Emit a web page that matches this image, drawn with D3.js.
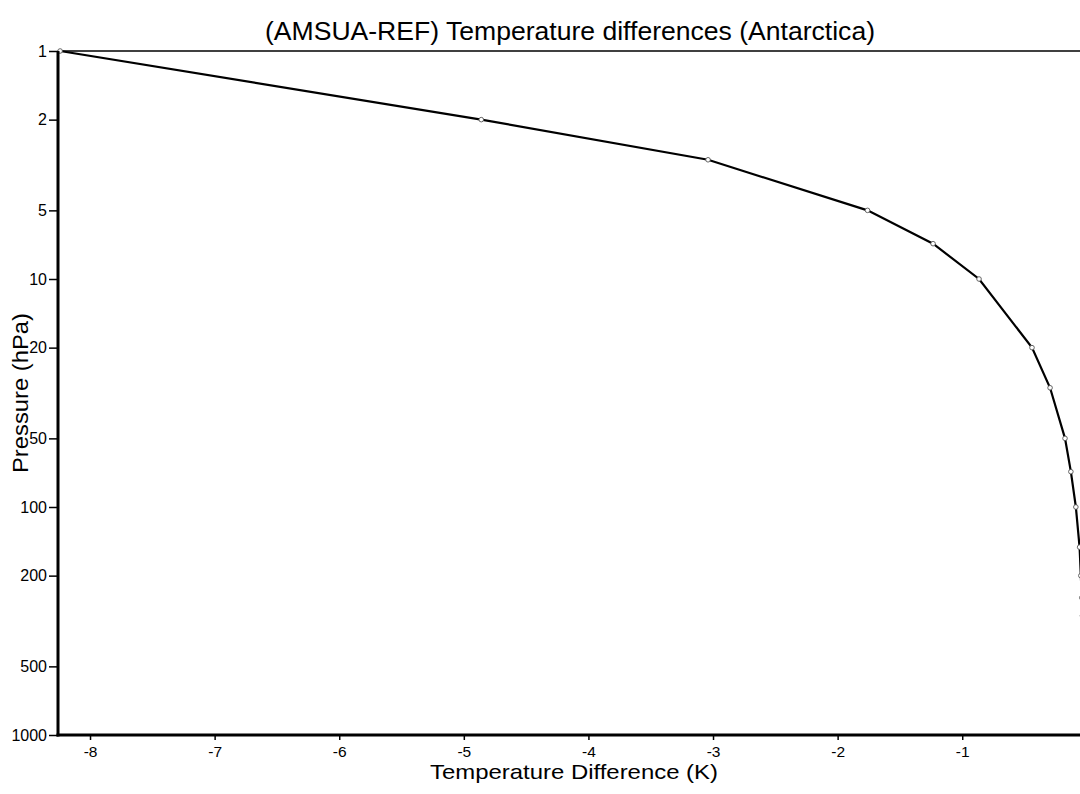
<!DOCTYPE html>
<html>
<head>
<meta charset="utf-8">
<script src="https://cdn.jsdelivr.net/npm/d3@7"></script>
<style>
  html, body { margin: 0; padding: 0; background: #fff; overflow: hidden; }
  text { font-family: "Liberation Sans", Arial, sans-serif; fill: #000; }
</style>
</head>
<body>
<div id="chart-container" style="width:1080px;height:794px;"></div>
<script>
// pressure levels (hPa) and temperature differences (K)
const pressure = [1, 2, 3, 5, 7, 10, 20, 30, 50, 70, 100, 150, 200, 250, 300, 400, 500, 700, 850, 1000];
const tempDiff = [-8.24, -4.86, -3.04, -1.76, -1.234, -0.865, -0.44, -0.295, -0.175, -0.128, -0.088, -0.058, -0.048, -0.04, -0.035, -0.03, -0.026, -0.02, -0.016, -0.012];
const yTicks = [1, 2, 5, 10, 20, 50, 100, 200, 500, 1000];
const xTicks = [-8, -7, -6, -5, -4, -3, -2, -1];

document.addEventListener('DOMContentLoaded', () => {
    const width = 1080, height = 794;
    const margin = { top: 51, left: 58, bottom: 59 };

    const svg = d3.select('#chart-container')
        .append('svg')
        .attr('width', width)
        .attr('height', height);

    const x = d3.scaleLinear()
        .domain([-8.257, 0])
        .range([margin.left, margin.left + 8.257 * 124.6]);

    const y = d3.scaleLog()
        .domain([1, 1000])
        .range([margin.top, height - margin.bottom]);

    const data = pressure.map((p, i) => ({ p: p, t: tempDiff[i] }));
    const fmt = d => String(d);  // plain hyphen minus, like the original

    // top border
    svg.append('line')
        .attr('x1', x(-8.257)).attr('x2', width)
        .attr('y1', y(1)).attr('y2', y(1))
        .attr('stroke', '#000').attr('stroke-width', 1.5);

    const line = d3.line()
        .x(d => x(d.t))
        .y(d => y(d.p));

    svg.append('path')
        .datum(data)
        .attr('fill', 'none')
        .attr('stroke', '#000')
        .attr('stroke-width', 2.2)
        .attr('d', line);

    svg.append('g')
        .selectAll('circle')
        .data(data)
        .enter().append('circle')
        .attr('cx', d => x(d.t))
        .attr('cy', d => y(d.p))
        .attr('r', 2.3)
        .attr('fill', '#fff')
        .attr('stroke', '#555')
        .attr('stroke-width', 0.9);

    // y axis
    const yAxis = svg.append('g')
        .attr('transform', `translate(${margin.left},0)`)
        .call(d3.axisLeft(y).tickValues(yTicks).tickFormat(fmt).tickSize(9).tickPadding(2));
    yAxis.select('.domain').remove();
    yAxis.selectAll('.tick line').attr('stroke-width', 1.5);
    yAxis.selectAll('text').style('font-size', '16px');
    svg.append('line')
        .attr('x1', margin.left).attr('x2', margin.left)
        .attr('y1', y(1)).attr('y2', y(1000) + 1.5)
        .attr('stroke', '#000').attr('stroke-width', 3);

    // x axis
    const xAxis = svg.append('g')
        .attr('transform', `translate(0,${y(1000)})`)
        .call(d3.axisBottom(x).tickValues(xTicks).tickFormat(fmt).tickSize(5).tickPadding(6));
    xAxis.select('.domain').remove();
    xAxis.selectAll('.tick line').attr('stroke-width', 1.5);
    xAxis.selectAll('text').style('font-size', '15.5px');
    svg.append('line')
        .attr('x1', margin.left - 1.5).attr('x2', width)
        .attr('y1', y(1000)).attr('y2', y(1000))
        .attr('stroke', '#000').attr('stroke-width', 3);

    svg.append('text')
        .attr('x', 570).attr('y', 40)
        .attr('text-anchor', 'middle')
        .attr('textLength', 610)
        .attr('lengthAdjust', 'spacingAndGlyphs')
        .style('font-size', '26px')
        .text('(AMSUA-REF) Temperature differences (Antarctica)');

    svg.append('text')
        .attr('x', 574).attr('y', 779)
        .attr('text-anchor', 'middle')
        .attr('textLength', 288)
        .attr('lengthAdjust', 'spacingAndGlyphs')
        .style('font-size', '21px')
        .text('Temperature Difference (K)');

    svg.append('text')
        .attr('transform', `translate(28,${(y(1) + y(1000)) / 2}) rotate(-90)`)
        .attr('text-anchor', 'middle')
        .attr('textLength', 160)
        .attr('lengthAdjust', 'spacingAndGlyphs')
        .style('font-size', '22px')
        .text('Pressure (hPa)');
});
</script>
</body>
</html>
